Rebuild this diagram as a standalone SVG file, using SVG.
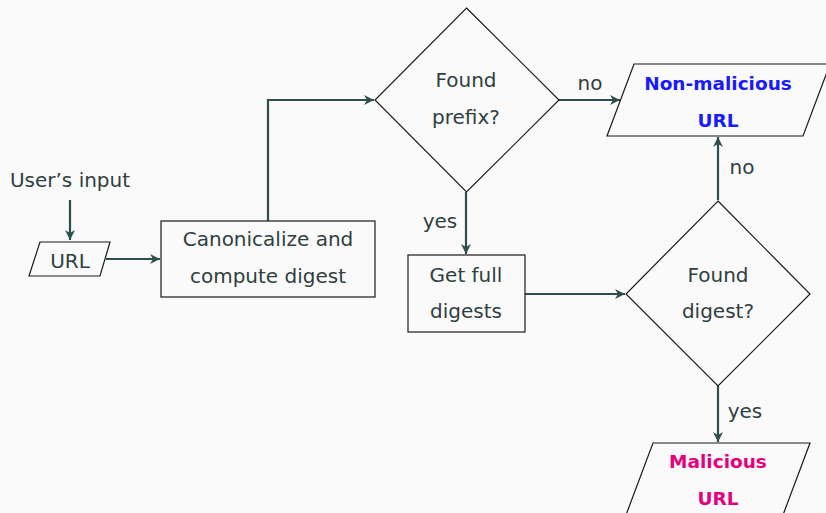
<svg xmlns="http://www.w3.org/2000/svg" width="826" height="513" viewBox="0 0 826 513">
<style>
text{font-family:"DejaVu Sans","Liberation Sans",sans-serif;font-size:20px;fill:#2f4040;text-anchor:middle}
.shape{fill:none;stroke:#1a1a1a;stroke-width:1.2}
.conn{fill:none;stroke:#2f4f4f;stroke-width:2.2}
.b{font-weight:bold;font-size:18.5px}
</style>
<defs>
<marker id="ah" markerUnits="userSpaceOnUse" markerWidth="14" markerHeight="14" viewBox="-12 -7 14 14" refX="0" refY="0" orient="auto">
<path d="M-10,-5 L0,0 L-10,5 L-7,0 Z" fill="#2f4f4f"/>
</marker>
</defs>
<rect width="826" height="513" fill="#fafafa"/>
<g id="conns">
<path class="conn" d="M70,200 V240" marker-end="url(#ah)"/>
<path class="conn" d="M106,259 H160" marker-end="url(#ah)"/>
<path class="conn" d="M268,221 V100 H374" marker-end="url(#ah)"/>
<path class="conn" d="M559,100 H620" marker-end="url(#ah)"/>
<path class="conn" d="M466,192 V254" marker-end="url(#ah)"/>
<path class="conn" d="M525,294 H625" marker-end="url(#ah)"/>
<path class="conn" d="M718,200 V137" marker-end="url(#ah)"/>
<path class="conn" d="M718,386 V442" marker-end="url(#ah)"/>
<text x="590" y="90">no</text>
<text x="440" y="228">yes</text>
<text x="742" y="174">no</text>
<text x="745" y="418">yes</text>
</g>
<g id="user-input"><text x="70" y="187">User’s input</text></g>
<g id="url"><polygon class="shape" points="40,242 110,242 100,276 29,276"/><text x="70" y="268">URL</text></g>
<g id="canon"><rect class="shape" x="161" y="221" width="214" height="76"/><text x="268" y="246">Canonicalize and</text><text x="268" y="283">compute digest</text></g>
<g id="prefix"><polygon class="shape" points="466.5,8 559,100 466.5,192 375,100"/><text x="466" y="87">Found</text><text x="466" y="124">prefix?</text></g>
<g id="nonmal"><polygon class="shape" points="634,64 830,64 803,136 607,136"/><text class="b" x="718" y="90" style="fill:#1a1aff">Non-malicious</text><text class="b" x="718" y="127" style="fill:#1a1aff">URL</text></g>
<g id="getfull"><rect class="shape" x="408" y="255" width="117" height="77"/><text x="466" y="282">Get full</text><text x="466" y="318">digests</text></g>
<g id="digest"><polygon class="shape" points="718,201 810,294 718,386 626,294"/><text x="718" y="282">Found</text><text x="718" y="318">digest?</text></g>
<g id="mal"><polygon class="shape" points="653,443 810,443 783,515 626,515"/><text class="b" x="718" y="468" style="fill:#e6007e">Malicious</text><text class="b" x="718" y="505" style="fill:#e6007e">URL</text></g>
</svg>
